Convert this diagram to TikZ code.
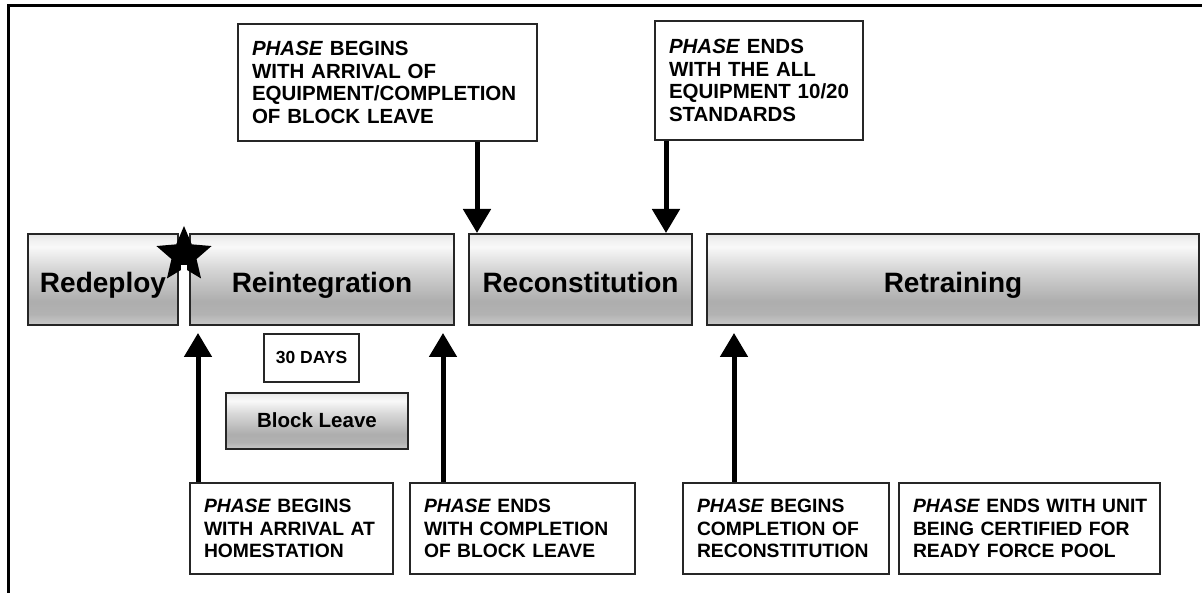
\documentclass[tikz,border=0pt]{standalone}
\usepackage{fontspec}
\setmainfont{Liberation Sans}
\usetikzlibrary{arrows.meta,shapes.geometric}
\pgfdeclareverticalshading{metal}{100bp}{color(0bp)=(gray!42); color(25bp)=(gray!42); color(31bp)=(gray!60); color(38bp)=(gray!64); color(56bp)=(gray!32); color(68bp)=(gray!5); color(72bp)=(gray!12); color(75bp)=(gray!20); color(100bp)=(gray!20)}
\hyphenpenalty=10000

\begin{document}
\begin{tikzpicture}[x=1pt,y=-1pt,line width=2pt,
  phase/.style={draw=black!85,shading=metal,anchor=north west,inner sep=0pt,text height=27pt,text depth=0pt,font=\fontsize{28}{30}\selectfont\bfseries},
  note/.style={draw=black!85,fill=white,anchor=north west,align=left,inner xsep=14pt,inner ysep=0pt,font=\fontsize{20.5}{22.5}\selectfont\bfseries},
  low/.style={note,font=\fontsize{19.3}{22.5}\selectfont\bfseries},
  down/.style={line width=5pt,-{Triangle[length=24pt,width=27pt]}}]
\path[use as bounding box] (0,0) rectangle (1202,593);
\draw[line width=3pt] (8,593) -- (8,6) -- (1202,6);
% phases
\node[phase,minimum width=150pt,minimum height=91pt] (redeploy) at (27,233) {Redeploy};
\node[phase,minimum width=264pt,minimum height=91pt] (reint) at (189,233) {Reintegration};
\node[phase,minimum width=223pt,minimum height=91pt] (recon) at (468,233) {Reconstitution};
\node[phase,minimum width=492pt,minimum height=91pt] (retrain) at (706,233) {Retraining};
\node[star,star points=5,star point ratio=2.2,fill=black,draw=none,minimum size=58pt,inner sep=0pt] (mark) at (184,255) {};
\draw[white,line width=6pt,shorten <=10pt] (mark.center) -- (mark.center |- reint.south);
% block leave
\node[draw=black!85,anchor=north west,minimum width=95pt,minimum height=48pt,inner sep=0pt,text height=12pt,text depth=0pt,font=\fontsize{17.5}{20}\selectfont\bfseries] (days) at (263,333) {30 DAYS};
\node[phase,minimum width=182pt,minimum height=56pt,text height=14pt,font=\fontsize{20.5}{22}\selectfont\bfseries] (leave) at (225,392) {Block Leave};
% notes above
\node[note,text width=271pt,minimum height=117pt] (t1) at (237,23) {\textit{PHASE} BEGINS\\WITH ARRIVAL OF\\EQUIPMENT/COMPLETION\\OF BLOCK LEAVE};
\node[note,text width=180pt,minimum height=119pt] (t2) at (654,20) {\textit{PHASE} ENDS\\WITH THE ALL\\EQUIPMENT~10/20\\STANDARDS};
% notes below
\node[low,text width=175pt,minimum height=91pt] (b1) at (189,482) {\textit{PHASE}~BEGINS\\WITH~ARRIVAL~AT\\HOMESTATION};
\node[low,text width=197pt,minimum height=91pt] (b2) at (409,482) {\textit{PHASE} ENDS\\WITH~COMPLETION\\OF~BLOCK~LEAVE};
\node[low,text width=178pt,minimum height=91pt] (b3) at (682,482) {\textit{PHASE}~BEGINS\\COMPLETION~OF\\RECONSTITUTION};
\node[low,text width=233pt,minimum height=91pt] (b4) at (898,482) {\textit{PHASE}~ENDS~WITH~UNIT\\BEING~CERTIFIED~FOR\\READY~FORCE~POOL};
% arrows
\coordinate (x1) at (477,0);
\coordinate (x2) at (666,0);
\coordinate (x3) at (198,0);
\coordinate (x4) at (443,0);
\coordinate (x5) at (734,0);
\draw[down] (t1.south -| x1) -- (recon.north -| x1);
\draw[down] (t2.south -| x2) -- (recon.north -| x2);
\draw[down,shorten >=7pt] (b1.north -| x3) -- (reint.south -| x3);
\draw[down,shorten >=7pt] (b2.north -| x4) -- (reint.south -| x4);
\draw[down,shorten >=7pt] (b3.north -| x5) -- (retrain.south -| x5);
\end{tikzpicture}
\end{document}
